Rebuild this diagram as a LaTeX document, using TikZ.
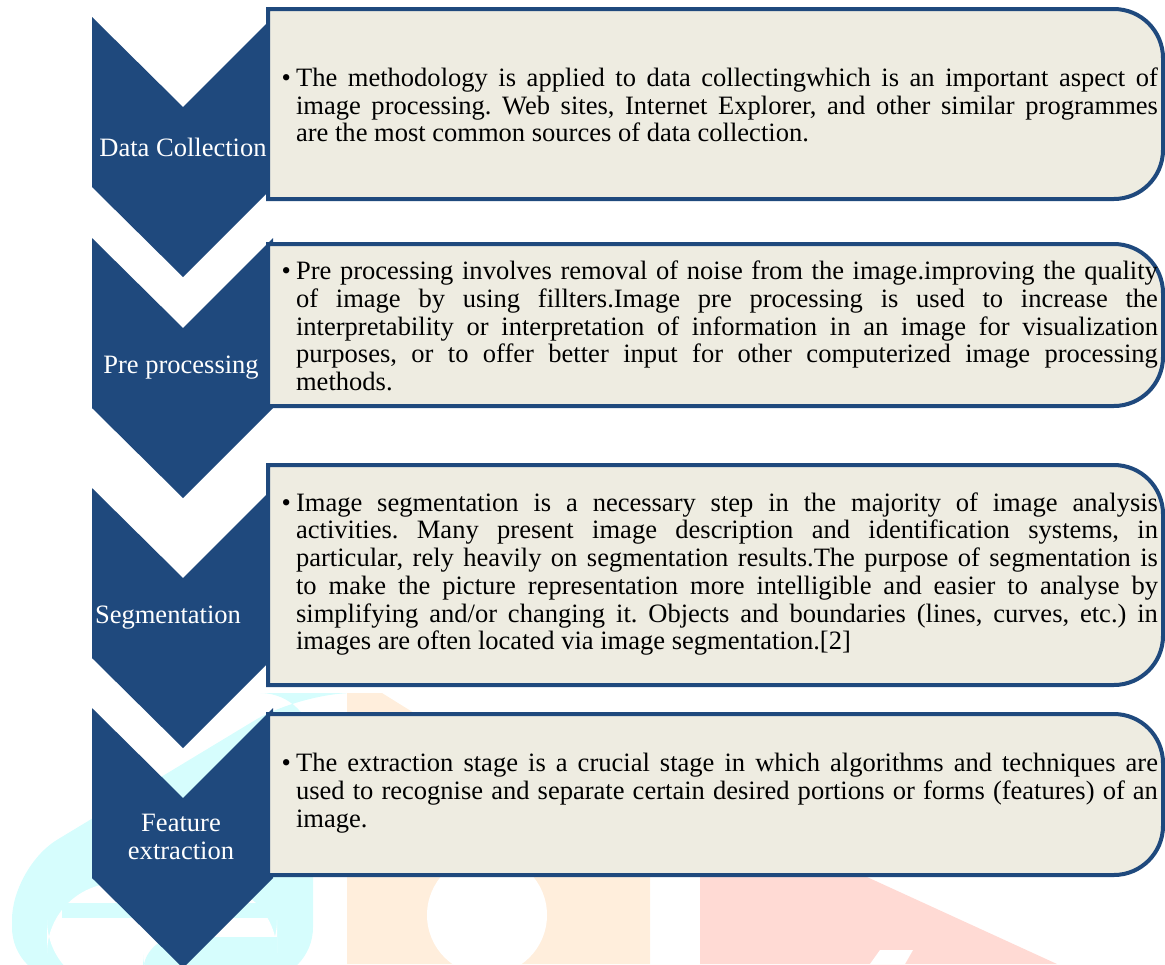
\documentclass[tikz,border=0pt]{standalone}
\usepackage{fontspec}
\setmainfont{Liberation Serif}
\usetikzlibrary{calc,positioning}
\definecolor{navy}{HTML}{1F497D}
\definecolor{boxfill}{HTML}{EEECE1}
\definecolor{wmcyan}{HTML}{D6FDFD}
\definecolor{wmorange}{HTML}{FFEEDC}
\definecolor{wmred}{HTML}{FFDAD4}
\hyphenpenalty=10000
\exhyphenpenalty=10000
\frenchspacing
\tikzset{
  chevron/.style={fill=navy},
  infobox/.style={draw=navy, line width=0.08cm, fill=boxfill},
  steplabel/.style={text=white, align=center, inner sep=0pt,
    font=\fontsize{15.1}{15.8}\selectfont},
  info/.style={text width=17.24cm, align=justify, inner sep=0pt,
    font=\fontsize{15.1}{15.8}\selectfont}
}

\begin{document}
\begin{tikzpicture}[x=0.02cm,y=-0.02cm]
\useasboundingbox (0,0) rectangle (1165,964);

% faint watermark behind the chart
\fill[wmcyan,rounded corners=30] (12,980) -- (12,867) -- (300,693) -- (313,693) -- (313,980) -- cycle;
\fill[white,rounded corners=40] (47,990) -- (47,883) -- (277,883) -- (277,990) -- cycle;
\fill[wmcyan] (62,903) rectangle (277,918);
\fill[wmcyan,rounded corners=20] (277,937) -- (143,937) -- (143,990) -- (277,990);
\fill[wmorange] (347,693) -- (382,693) -- (650,860) -- (650,964) -- (347,964) -- cycle;
\fill[white] (487,915) circle (60);
\fill[wmred] (700,877) -- (867,877) -- (1057,964) -- (700,964) -- cycle;
\fill[white] (870,964) -- (880,950) -- (913,950) -- (905,964) -- cycle;

% chevrons
\foreach \t in {17,238,488,708}{
  \fill[chevron] (92,\t) -- (183,\t+90) -- (273,\t) -- (273,\t+170)
    -- (183,\t+260) -- (92,\t+170) -- cycle;}

% text boxes, right corners rounded
\foreach \ya/\yb in {9/199,244/406,465/685,714/875}{
  \draw[infobox] (268,\ya) -- (1000,\ya) {[rounded corners=28] -- (1163,\ya)
    -- (1163,\yb) -- (1000,\yb)} -- (268,\yb) -- cycle;}

% step names
\node[steplabel] (dc) at (183,147) {Data Collection};
\node[steplabel] (pp) at (181,368) {Pre processing};
\node[steplabel] (sg) at (168,618) {Segmentation};
\node[steplabel] (fe) at (181,837) {Feature\\extraction};

% descriptions
\node[info] (dctxt) at (727,105) {\llap{\textbullet\hspace{3pt}}The methodology is applied to data collectingwhich is an important aspect of\linebreak
image processing. Web sites, Internet Explorer, and other similar programmes\linebreak
are the most common sources of data collection.};

\node[info] (pptxt) at (727,326) {\llap{\textbullet\hspace{3pt}}Pre processing involves removal of noise from the image.improving the quality\linebreak
of image by using fillters.Image pre processing is used to increase the\linebreak
interpretability or interpretation of information in an image for visualization\linebreak
purposes, or to offer better input for other computerized image processing\linebreak
methods.};

\node[info] (sgtxt) at (727,574) {\llap{\textbullet\hspace{3pt}}Image segmentation is a necessary step in the majority of image analysis\linebreak
activities. Many present image description and identification systems, in\linebreak
particular, rely heavily on segmentation results.The purpose of segmentation is\linebreak
to make the picture representation more intelligible and easier to analyse by\linebreak
simplifying and/or changing it. Objects and boundaries (lines, curves, etc.) in\linebreak
images are often located via image segmentation.[2]};

\node[info] (fetxt) at (727,793) {\llap{\textbullet\hspace{3pt}}The extraction stage is a crucial stage in which algorithms and techniques are\linebreak
used to recognise and separate certain desired portions or forms (features) of an\linebreak
image.};
\end{tikzpicture}
\end{document}
